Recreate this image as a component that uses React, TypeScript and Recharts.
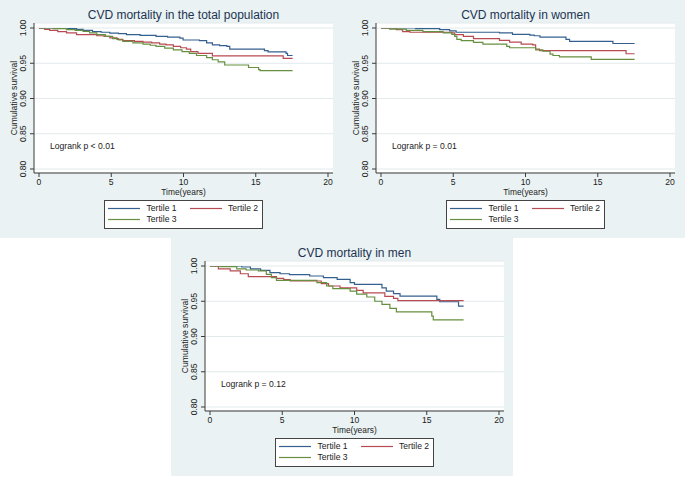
import React from "react";
import { LineChart, Line, XAxis, YAxis, CartesianGrid } from "recharts";

type Pt = [number, number];

// Kaplan-Meier step points: [time (years), cumulative survival]
const totalT1: Pt[] = [[0,1],[2.0,0.999],[2.6,0.998],[3.05,0.9966],[3.7,0.995],[4.3,0.994],[4.9,0.9928],[5.5,0.992],[6.05,0.9905],[7.0,0.9895],[8.1,0.988],[8.9,0.987],[9.75,0.9857],[9.97,0.983],[11.1,0.982],[11.6,0.979],[12.0,0.976],[12.5,0.975],[13.0,0.974],[13.2,0.970],[15.6,0.968],[15.85,0.966],[17.1,0.964],[17.2,0.961],[17.55,0.961]];
const totalT2: Pt[] = [[0,1],[0.4,0.998],[0.74,0.9966],[1.3,0.995],[1.9,0.993],[2.6,0.9905],[4.0,0.989],[4.5,0.988],[4.9,0.986],[5.4,0.984],[5.8,0.982],[6.6,0.981],[7.2,0.980],[7.8,0.979],[8.35,0.977],[8.8,0.976],[9.3,0.974],[9.8,0.972],[10.2,0.970],[10.5,0.9666],[11.0,0.964],[12.0,0.9606],[16.9,0.957],[17.55,0.957]];
const totalT3: Pt[] = [[0,1],[1.0,0.999],[1.9,0.9976],[2.5,0.9965],[3.05,0.9953],[3.5,0.993],[4.0,0.9905],[4.6,0.988],[5.1,0.985],[5.5,0.983],[5.8,0.981],[6.5,0.979],[7.2,0.977],[7.7,0.9755],[8.1,0.974],[8.7,0.9715],[9.3,0.969],[9.9,0.9665],[10.4,0.964],[10.9,0.961],[11.6,0.958],[12.0,0.955],[12.4,0.952],[12.85,0.9475],[14.5,0.944],[15.2,0.941],[15.3,0.9395],[17.55,0.9395]];

const womenT1: Pt[] = [[0,1],[2.4,0.999],[4.06,0.9976],[4.75,0.996],[5.2,0.994],[8.2,0.993],[9.1,0.991],[10.3,0.990],[10.6,0.989],[11.0,0.987],[12.8,0.984],[13.05,0.981],[16.05,0.978],[17.55,0.978]];
const womenT2: Pt[] = [[0,1],[1.06,0.9976],[1.5,0.995],[2.0,0.994],[4.9,0.993],[5.1,0.9905],[5.7,0.988],[6.4,0.985],[8.2,0.9824],[8.9,0.980],[9.7,0.977],[10.5,0.976],[10.7,0.970],[10.97,0.9678],[16.96,0.9635],[17.55,0.9635]];
const womenT3: Pt[] = [[0,1],[0.6,0.9985],[1.75,0.9966],[2.9,0.995],[4.3,0.993],[4.9,0.991],[5.1,0.988],[5.25,0.984],[5.55,0.982],[6.4,0.9796],[7.05,0.977],[8.7,0.974],[8.9,0.972],[10.7,0.969],[11.2,0.967],[11.7,0.963],[11.9,0.961],[12.35,0.959],[14.55,0.9555],[17.55,0.9555]];

const menT1: Pt[] = [[0,1],[2.2,0.9986],[2.8,0.996],[3.5,0.9938],[4.15,0.9905],[4.85,0.989],[5.5,0.9877],[6.9,0.9858],[7.85,0.9834],[8.8,0.981],[9.7,0.9763],[10.0,0.974],[11.9,0.969],[12.2,0.9645],[12.7,0.9607],[13.15,0.9573],[15.7,0.9526],[15.9,0.9493],[17.2,0.943],[17.55,0.943]];
const menT2: Pt[] = [[0,1],[0.58,0.996],[1.4,0.993],[2.1,0.989],[2.65,0.985],[4.6,0.9825],[5.1,0.9806],[5.55,0.9787],[7.7,0.975],[8.2,0.9716],[9.0,0.969],[10.15,0.9654],[10.6,0.962],[12.1,0.957],[12.7,0.954],[13.0,0.951],[17.55,0.951]];
const menT3: Pt[] = [[0,1],[0.7,0.999],[1.85,0.996],[2.5,0.9943],[3.35,0.993],[3.9,0.988],[4.25,0.9834],[4.6,0.9796],[7.4,0.9763],[8.07,0.9716],[8.5,0.968],[9.7,0.9645],[10.15,0.960],[10.85,0.956],[11.4,0.950],[11.9,0.9455],[12.45,0.9398],[12.9,0.935],[15.35,0.929],[15.45,0.9237],[17.55,0.9237]];

const xTicks = [0, 5, 10, 15, 20];
const yTicks = [0.8, 0.85, 0.9, 0.95, 1.0];
const seriesNames = ["Tertile 1", "Tertile 2", "Tertile 3"];
const seriesColors = ["#34608f", "#b84a52", "#66903f"];
const titles = ["CVD mortality in the total population", "CVD mortality in women", "CVD mortality in men"];
const logrankTexts = ["Logrank p < 0.01", "Logrank p = 0.01", "Logrank p = 0.12"];

const FONT = "'Liberation Sans', Arial, Helvetica, sans-serif";
const BG = "#eaf2f3";
const PW = 342;
const PH = 238;

const YTick = (props: any) => {
  const { x, y, payload } = props;
  return (
    <text
      transform={`translate(${x - 2},${y}) rotate(-90)`}
      textAnchor="middle"
      fontSize={8.6}
      fontFamily={FONT}
      fill="#222"
    >
      {Number(payload.value).toFixed(2)}
    </text>
  );
};

function Panel(props: { left: number; top: number; title: string; logrank: string; series: Pt[][] }) {
  const { left, top, title, logrank, series } = props;
  return (
    <div style={{ position: "absolute", left, top, width: PW, height: PH, background: BG }}>
      <div style={{ position: "absolute", left: 0, top: 0 }}>
        <LineChart width={PW} height={PH} margin={{ top: 23, right: 9, bottom: 45, left: 10 }}>
          <CartesianGrid vertical={false} stroke="#e2eaec" fill="#ffffff" fillOpacity={1} />
          <XAxis
            dataKey="t"
            type="number"
            domain={[0, 20]}
            ticks={xTicks}
            padding={{ left: 5, right: 5 }}
            height={20}
            tickSize={4}
            tickMargin={2}
            stroke="#3a3a3a"
            tick={{ fontSize: 8.6, fill: "#222", fontFamily: FONT }}
            allowDataOverflow
          />
          <YAxis
            type="number"
            domain={[0.8, 1.0]}
            ticks={yTicks}
            padding={{ top: 5, bottom: 4 }}
            width={24}
            tickSize={4}
            tickMargin={2}
            stroke="#3a3a3a"
            tick={<YTick />}
            allowDataOverflow
          />
          {series.map((pts, i) => (
            <Line
              key={seriesNames[i]}
              name={seriesNames[i]}
              data={pts.map(([t, s]) => ({ t, s }))}
              dataKey="s"
              type="stepAfter"
              stroke={seriesColors[i]}
              strokeWidth={1.2}
              dot={false}
              activeDot={false}
              isAnimationActive={false}
            />
          ))}
        </LineChart>
      </div>
      <svg
        width={PW}
        height={PH}
        style={{ position: "absolute", left: 0, top: 0, pointerEvents: "none" }}
        fontFamily={FONT}
      >
        <text x={183.5} y={19.3} textAnchor="middle" fontSize={12} fill="#1c3452">{title}</text>
        <text x={183.5} y={194.7} textAnchor="middle" fontSize={8.4} fill="#222">Time(years)</text>
        <text transform="translate(17,98) rotate(-90)" textAnchor="middle" fontSize={8.6} fill="#222">Cumulative survival</text>
        <text x={50} y={149.3} fontSize={8.6} fill="#222">{logrank}</text>
        <rect x={104.5} y={200.5} width={158} height={28} fill="#ffffff" stroke="#444" strokeWidth={1} />
        <line x1={108} x2={140} y1={208.5} y2={208.5} stroke={seriesColors[0]} strokeWidth={1.2} />
        <text x={146.5} y={211.3} fontSize={8.6} fill="#222">{seriesNames[0]}</text>
        <line x1={190} x2={222} y1={208.5} y2={208.5} stroke={seriesColors[1]} strokeWidth={1.2} />
        <text x={228} y={211.3} fontSize={8.6} fill="#222">{seriesNames[1]}</text>
        <line x1={108} x2={140} y1={219.5} y2={219.5} stroke={seriesColors[2]} strokeWidth={1.2} />
        <text x={146.5} y={222.3} fontSize={8.6} fill="#222">{seriesNames[2]}</text>
      </svg>
    </div>
  );
}

export default function App() {
  return (
    <div style={{ position: "absolute", left: 0, top: 0, width: 685, height: 478, background: "#ffffff", overflow: "hidden" }}>
      <div style={{ position: "absolute", left: 0, top: 0, width: 685, height: PH, background: BG }} />
      <Panel left={0} top={0} title={titles[0]} logrank={logrankTexts[0]} series={[totalT1, totalT2, totalT3]} />
      <Panel left={342} top={0} title={titles[1]} logrank={logrankTexts[1]} series={[womenT1, womenT2, womenT3]} />
      <Panel left={171} top={238} title={titles[2]} logrank={logrankTexts[2]} series={[menT1, menT2, menT3]} />
    </div>
  );
}
